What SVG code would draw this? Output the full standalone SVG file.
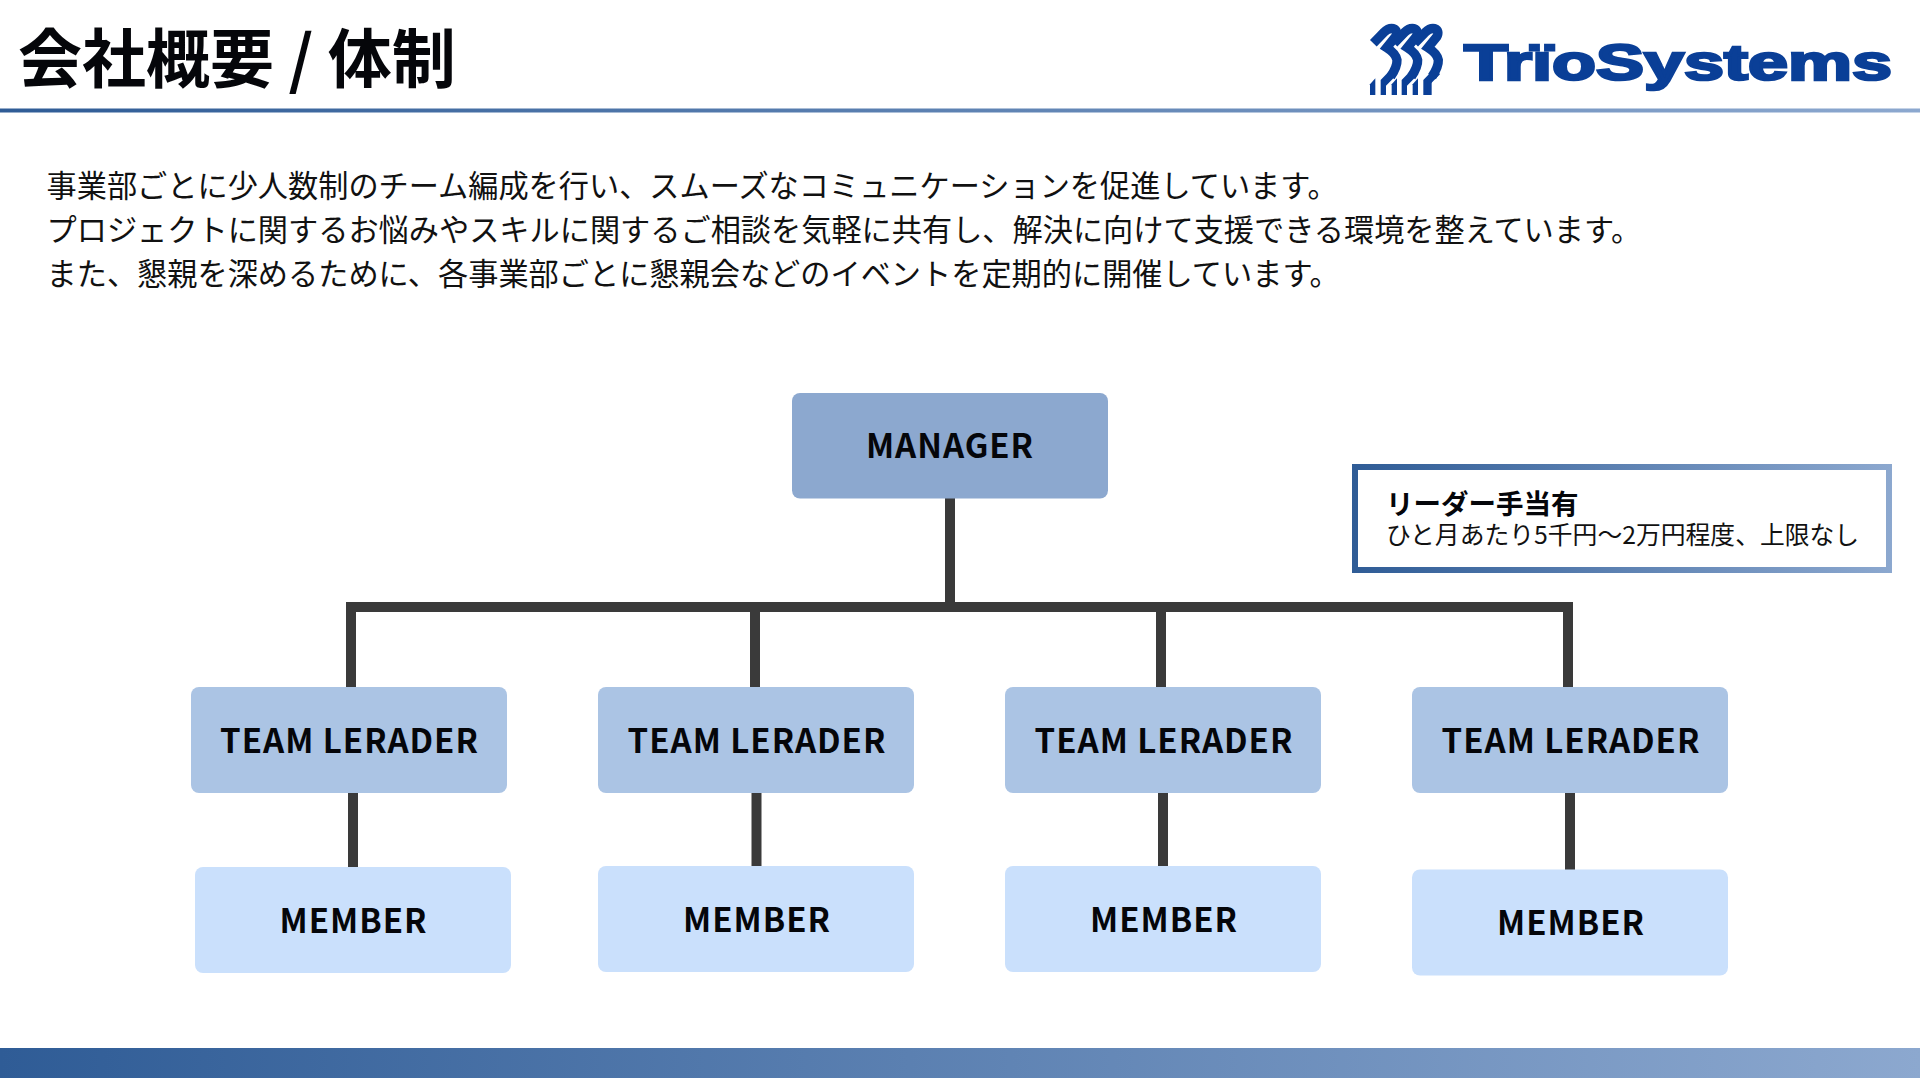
<svg xmlns="http://www.w3.org/2000/svg" width="1920" height="1080" viewBox="0 0 1920 1080">
<style>
text{font-family:"Noto Sans CJK JP","Noto Sans",sans-serif;fill:#05060a}
.title{font-size:64px;font-weight:700}
.body{font-size:30.200px;fill:#111}
.lbl{font-size:33px;font-weight:700;letter-spacing:1px;text-anchor:middle}
.mgr{fill:#8ca8cf}.team{fill:#abc4e4}.mem{fill:#cae0fc}
.c{stroke:#3a3a3a;stroke-width:10;fill:none}
.m{fill:none;stroke:#0a3f97;stroke-width:28}
.leg{fill:#0a3f97}
</style>
<defs>
<linearGradient id="g" x1="0" y1="0" x2="1" y2="0"><stop offset="0" stop-color="#2f5c96"/><stop offset="1" stop-color="#8ca8cf"/></linearGradient>
<linearGradient id="gb" gradientUnits="userSpaceOnUse" x1="1352" y1="0" x2="1892" y2="0"><stop offset="0" stop-color="#2f5c96"/><stop offset="1" stop-color="#8ca8cf"/></linearGradient>
<path id="sw" class="m" d="M40,85 L72,52 Q86,38 100,41 Q116,47 106,66 L80,98 Q108,116 111,135 Q112,155 92,185"/>
<path id="bar" class="leg" d="M62,240V195L96,160L112,178L78,212V240Z"/>
<path id="wedge" class="leg" d="M30,240V208L46,190V240Z"/>
</defs>
<rect width="1920" height="1080" fill="#fff"/>
<g id="header">
<text class="title" x="18" y="82">会社概要 / 体制</text>
<rect x="0" y="108.500" width="1920" height="4" fill="url(#g)"/>
</g>
<g id="logo">
<g transform="translate(1360 15) scale(.3333)">
<use href="#sw"/><use href="#sw" x="62"/><use href="#sw" x="124"/>
<use href="#bar"/><use href="#bar" x="63"/><use href="#bar" x="128"/>
<use href="#wedge"/><use href="#wedge" x="65"/><use href="#wedge" x="128"/>
<rect class="leg" x="204" y="190" width="11" height="50"/>
</g>
<text x="1464" y="80" textLength="428" lengthAdjust="spacingAndGlyphs" style="font-family:'Liberation Sans',sans-serif;font-size:50px;font-weight:700;fill:#0a3f97;stroke:#0a3f97;stroke-width:2.500px">TrïoSystems</text>
</g>
<g id="intro">
<text class="body" x="46.500" y="197">事業部ごとに少人数制のチーム編成を行い、スムーズなコミュニケーションを促進しています。</text>
<text class="body" x="46.500" y="241">プロジェクトに関するお悩みやスキルに関するご相談を気軽に共有し、解決に向けて支援できる環境を整えています。</text>
<text class="body" x="46.500" y="285">また、懇親を深めるために、各事業部ごとに懇親会などのイベントを定期的に開催しています。</text>
</g>
<g id="connectors">
<path class="c" d="M950,498V607M351,687V607H1568V687M755,607V687M1161,607V687M353,793V867M756.500,793V866M1163,793V866M1570,793V870"/>
</g>
<g id="manager"><rect class="mgr" x="792" y="393" width="316" height="105.500" rx="8"/><text class="lbl" x="950" y="458">MANAGER</text></g>
<g id="leader1"><rect class="team" x="191" y="687" width="316" height="106" rx="8"/><text class="lbl" x="349.500" y="753">TEAM LERADER</text></g>
<g id="leader2"><rect class="team" x="598" y="687" width="316" height="106" rx="8"/><text class="lbl" x="757" y="753">TEAM LERADER</text></g>
<g id="leader3"><rect class="team" x="1005" y="687" width="316" height="106" rx="8"/><text class="lbl" x="1164" y="753">TEAM LERADER</text></g>
<g id="leader4"><rect class="team" x="1412" y="687" width="316" height="106" rx="8"/><text class="lbl" x="1571" y="753">TEAM LERADER</text></g>
<g id="member1"><rect class="mem" x="195" y="867" width="316" height="106" rx="8"/><text class="lbl" x="353.500" y="933">MEMBER</text></g>
<g id="member2"><rect class="mem" x="598" y="866" width="316" height="106" rx="8"/><text class="lbl" x="757" y="932">MEMBER</text></g>
<g id="member3"><rect class="mem" x="1005" y="866" width="316" height="106" rx="8"/><text class="lbl" x="1164" y="932">MEMBER</text></g>
<g id="member4"><rect class="mem" x="1412" y="869.500" width="316" height="106" rx="8"/><text class="lbl" x="1571" y="935">MEMBER</text></g>
<g id="note">
<rect x="1355" y="467" width="534" height="103" fill="#fff" stroke="url(#gb)" stroke-width="6"/>
<text x="1386" y="514" style="font-size:27.500px;font-weight:700">リーダー手当有</text>
<text x="1386" y="544" style="font-size:24.800px;fill:#111">ひと月あたり5千円～2万円程度、上限なし</text>
</g>
<rect id="footer" x="0" y="1048" width="1920" height="30" fill="url(#g)"/>
</svg>
